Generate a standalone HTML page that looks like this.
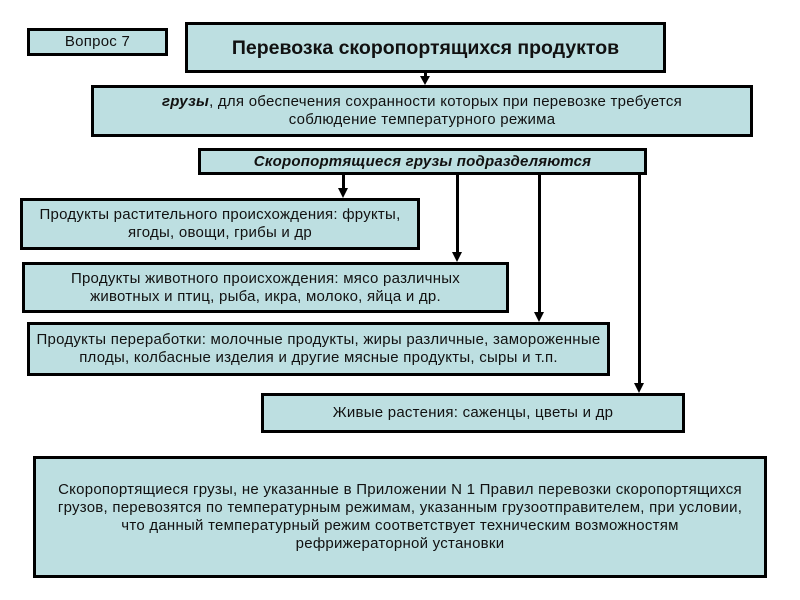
<!DOCTYPE html>
<html><head><meta charset="utf-8"><style>
body{margin:0;width:800px;height:600px;background:#fff;position:relative;overflow:hidden;font-family:"Liberation Sans","DejaVu Sans",sans-serif;color:#111}
.b{position:absolute;box-sizing:border-box;background:#bddfe1;border:3px solid #000;display:flex;align-items:center;justify-content:center;text-align:center;font-size:15px;line-height:18px;letter-spacing:0.25px;white-space:nowrap}
.v{position:absolute;background:#000;width:3px}
.a{position:absolute;width:0;height:0;border-left:5px solid transparent;border-right:5px solid transparent;border-top:10px solid #000}
</style></head><body>
<div class="b" style="left:27px;top:28px;width:141px;height:28px;font-size:15px">Вопрос 7</div>
<div class="b" style="left:185px;top:22px;width:481px;height:51px;font-size:19.5px;font-weight:bold;letter-spacing:0">Перевозка скоропортящихся продуктов</div>
<div class="b" style="left:91px;top:85px;width:662px;height:52px"><div><b><i>грузы</i></b>, для обеспечения сохранности которых при перевозке требуется<br>соблюдение температурного режима</div></div>
<div class="b" style="left:198px;top:148px;width:449px;height:27px;font-weight:bold;font-style:italic;letter-spacing:0.2px">Скоропортящиеся грузы подразделяются</div>
<div class="b" style="left:20px;top:198px;width:400px;height:52px"><div>Продукты растительного происхождения: фрукты,<br>ягоды, овощи, грибы и др</div></div>
<div class="b" style="left:22px;top:262px;width:487px;height:51px"><div>Продукты животного происхождения: мясо различных<br>животных и птиц, рыба, икра, молоко, яйца и др.</div></div>
<div class="b" style="left:27px;top:322px;width:583px;height:54px"><div>Продукты переработки: молочные продукты, жиры различные, замороженные<br>плоды, колбасные изделия и другие мясные продукты, сыры и т.п.</div></div>
<div class="b" style="left:261px;top:393px;width:424px;height:40px">Живые растения: саженцы, цветы и др</div>
<div class="b" style="left:33px;top:456px;width:734px;height:122px"><div>Скоропортящиеся грузы, не указанные в Приложении N 1 Правил перевозки скоропортящихся<br>грузов, перевозятся по температурным режимам, указанным грузоотправителем, при условии,<br>что данный температурный режим соответствует техническим возможностям<br>рефрижераторной установки</div></div>
<div class="v" style="left:424px;top:73px;height:4px"></div><div class="a" style="left:420px;top:76px;border-top-width:9px"></div>
<div class="v" style="left:342px;top:175px;height:14px"></div><div class="a" style="left:338px;top:188px"></div>
<div class="v" style="left:456px;top:175px;height:78px"></div><div class="a" style="left:452px;top:252px"></div>
<div class="v" style="left:538px;top:175px;height:138px"></div><div class="a" style="left:534px;top:312px"></div>
<div class="v" style="left:638px;top:175px;height:209px"></div><div class="a" style="left:634px;top:383px"></div>
</body></html>
